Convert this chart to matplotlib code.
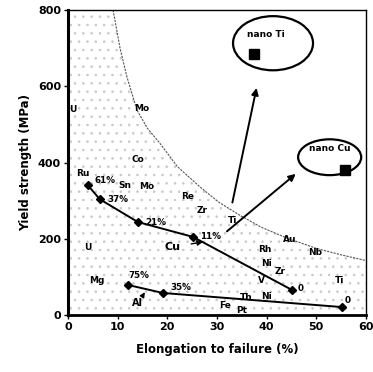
import matplotlib.pyplot as plt
from matplotlib.patches import Ellipse

# upper series (Cu, different rolling reductions)
cu_elong = [4.0, 6.4, 14.1, 25.2, 45.1]
cu_yield = [341, 304, 244, 205, 66]
cu_labels = ["61%", "37%", "21%", "11%", "0"]

# lower series (Al)
al_elong = [12.1, 19.1, 55.2]
al_yield = [79, 58, 21]
al_labels = ["75%", "35%", "0"]

# strength-ductility boundary
curve_elong = [9.1, 10.5, 11.9, 13.9, 16.0, 18.5, 22.0, 26.6, 30.5, 34.6, 39.0, 44.1, 50.0, 55.0, 60.0]
curve_yield = [800, 700, 624, 538, 490, 451, 390, 336, 295, 262, 230, 202, 175, 158, 143]

# conventional metals
elements = ["U", "Mo", "Co", "Ru", "Sn", "Mo", "U", "Re", "Zr", "Ti", "Au", "Nb", "Rh",
            "Ni", "Zr", "V", "Ti", "Th", "Ni", "Fe", "Pt", "Mg"]
elem_x = [1.0, 14.9, 14.1, 3.0, 11.5, 15.8, 4.0, 24.1, 27.0, 33.2, 44.7, 49.7, 39.6,
          40.0, 42.7, 39.0, 54.7, 36.0, 40.0, 31.6, 35.0, 5.8]
elem_y = [538, 543, 407, 372, 341, 336, 178, 310, 275, 249, 197, 163, 173,
          136, 113, 92, 92, 47, 50, 26, 13, 92]

# nanocrystalline points
nano_names = ["nano Ti", "nano Cu"]
nano_x = [37.4, 55.8]
nano_y = [685, 380]

fig = plt.figure(figsize=(3.73, 3.72), dpi=100)
ax = fig.add_axes([0.182, 0.153, 0.799, 0.82])

plt.rcParams["hatch.linewidth"] = 0.6
fx = [0, 0] + curve_elong + [60]
fy = [0, 800] + curve_yield + [0]
ax.fill(fx, fy, facecolor="none", edgecolor="#c8c8c8", hatch="..", linewidth=0)
ax.plot(curve_elong, curve_yield, color="#555555", lw=0.8, ls=(0, (2, 1)))

ax.plot(cu_elong, cu_yield, color="k", lw=1.4, marker="D", ms=4.5)
ax.plot(al_elong, al_yield, color="k", lw=1.4, marker="D", ms=4.5)

lab_off = [(1.3, 12), (1.5, 0), (1.5, 0), (1.5, 0), (1.2, 4)]
for x, y, s, (dx, dy) in zip(cu_elong, cu_yield, cu_labels, lab_off):
    ax.text(x + dx, y + dy, s, fontsize=6.3, fontweight="bold", va="center")
al_off = [(0, 25), (1.5, 15), (0.6, 18)]
for x, y, s, (dx, dy) in zip(al_elong, al_yield, al_labels, al_off):
    ax.text(x + dx, y + dy, s, fontsize=6.3, fontweight="bold", va="center")

for s, x, y in zip(elements, elem_x, elem_y):
    ax.text(x, y, s, fontsize=6.5, fontweight="bold", ha="center", va="center")

ax.annotate("Cu", xy=(27.2, 192), xytext=(21, 178), fontsize=8, fontweight="bold",
            ha="center", va="center",
            arrowprops=dict(arrowstyle="-|>", color="k", lw=1.0, shrinkA=6, shrinkB=0))
ax.annotate("Al", xy=(15.5, 60), xytext=(14.1, 31), fontsize=7, fontweight="bold",
            ha="center", va="center",
            arrowprops=dict(arrowstyle="-|>", color="k", lw=1.0, shrinkA=3, shrinkB=0))

# arrows toward the nano results
ax.annotate("", xy=(38.1, 603), xytext=(33.0, 288),
            arrowprops=dict(arrowstyle="-|>", color="k", lw=1.4, mutation_scale=10))
ax.annotate("", xy=(46.3, 375), xytext=(31.6, 215),
            arrowprops=dict(arrowstyle="-|>", color="k", lw=1.4, mutation_scale=10))

ax.add_patch(Ellipse((41.3, 713), 16.1, 142, facecolor="white", edgecolor="k", lw=1.6))
ax.add_patch(Ellipse((52.7, 414), 12.7, 94, facecolor="white", edgecolor="k", lw=1.6))
ax.plot(nano_x, nano_y, "ks", ms=7)
ax.text(39.8, 737, nano_names[0], fontsize=6.5, fontweight="bold", ha="center", va="center")
ax.text(52.7, 437, nano_names[1], fontsize=6.5, fontweight="bold", ha="center", va="center")

ax.set_xlim(0, 60)
ax.set_ylim(0, 800)
ax.set_xticks([0, 10, 20, 30, 40, 50, 60])
ax.set_yticks([0, 200, 400, 600, 800])
ax.tick_params(labelsize=8, length=3, width=1, pad=2)
for t in ax.get_xticklabels() + ax.get_yticklabels():
    t.set_fontweight("bold")
ax.spines["left"].set_linewidth(2.2)
ax.spines["bottom"].set_linewidth(2.0)
ax.spines["top"].set_linewidth(1.0)
ax.spines["right"].set_linewidth(1.0)
ax.set_xlabel("Elongation to failure (%)", fontsize=8.5, fontweight="bold", labelpad=8)
ax.set_ylabel("Yield strength (MPa)", fontsize=8.5, fontweight="bold", labelpad=4)

fig.savefig("out.png", dpi=100)
